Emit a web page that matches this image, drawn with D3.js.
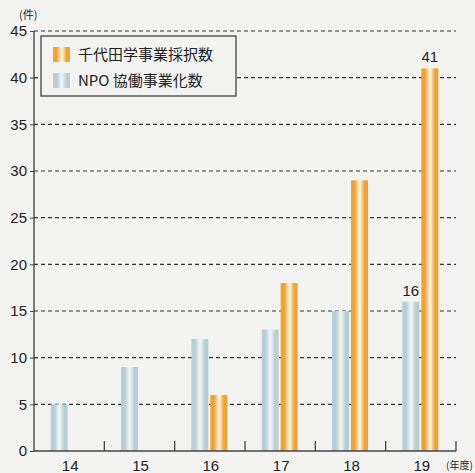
<!DOCTYPE html>
<html>
<head>
<meta charset="utf-8">
<script src="https://cdn.jsdelivr.net/npm/d3@7"></script>
<style>
  body { margin: 0; background: #f3f3f1; }
  svg { display: block; }
  text { font-family: "Liberation Sans", Arial, "Noto Sans CJK JP", sans-serif; fill: #222; }
  .jp { font-family: "Noto Sans CJK JP", sans-serif; }
</style>
</head>
<body>
<div id="chart"></div>
<script>
// data
var years = ["14", "15", "16", "17", "18", "19"];
var npoValues = [5, 9, 12, 13, 15, 16];         // NPO 協働事業化数
var chiyodaValues = [0, 0, 6, 18, 29, 41];      // 千代田学事業採択数
var yTicks = [0, 5, 10, 15, 20, 25, 30, 35, 40, 45];
var seriesNames = ["千代田学事業採択数", "NPO 協働事業化数"];

var W = 475, H = 473;
var margin = { top: 31, right: 19, bottom: 22, left: 34 },
  width = W - margin.left - margin.right,
  height = H - margin.top - margin.bottom;

var svgRoot = d3.select("#chart").append("svg")
  .attr("width", W).attr("height", H);

// cylinder-like gradients
var defs = svgRoot.append("defs");
function grad(id, edge, mid) {
  var g = defs.append("linearGradient").attr("id", id)
    .attr("x1", "0%").attr("x2", "100%").attr("y1", "0%").attr("y2", "0%");
  g.append("stop").attr("offset", "0%").attr("stop-color", edge);
  g.append("stop").attr("offset", "22%").attr("stop-color", edge);
  g.append("stop").attr("offset", "52%").attr("stop-color", mid);
  g.append("stop").attr("offset", "80%").attr("stop-color", edge);
  g.append("stop").attr("offset", "100%").attr("stop-color", edge);
}
grad("gOrange", "#f0a232", "#fff8ee");
grad("gBlue", "#b7ced5", "#f2f7f6");

var svg = svgRoot.append("g")
  .attr("transform", "translate(" + margin.left + "," + margin.top + ")");

var x = d3.scaleBand().domain(years).range([0, width]).padding(0);
var y = d3.scaleLinear().domain([0, 45]).range([height, 0]);

// dashed grid lines
svg.selectAll(".grid")
  .data(yTicks.filter(function (d) { return d > 0; }))
  .enter().append("line")
  .attr("x1", 0).attr("x2", width)
  .attr("y1", function (d) { return y(d); })
  .attr("y2", function (d) { return y(d); })
  .style("stroke", "#333")
  .style("stroke-width", 1.2)
  .style("stroke-dasharray", "4,3");

var barW = 17;

// NPO bars
svg.selectAll(".npo")
  .data(npoValues)
  .enter().append("rect")
  .attr("x", function (d, i) { return x(years[i]) + x.bandwidth() / 2 - barW - 1.5; })
  .attr("y", function (d) { return y(d); })
  .attr("width", barW)
  .attr("height", function (d) { return height - y(d); })
  .style("fill", "url(#gBlue)");

// Chiyoda bars
svg.selectAll(".chiyoda")
  .data(chiyodaValues)
  .enter().append("rect")
  .attr("x", function (d, i) { return x(years[i]) + x.bandwidth() / 2 + 0.5; })
  .attr("y", function (d) { return y(d); })
  .attr("width", barW)
  .attr("height", function (d) { return height - y(d); })
  .style("fill", "url(#gOrange)")
  .style("display", function (d) { return d > 0 ? null : "none"; });

// value labels on the last year
var last = years.length - 1;
svg.append("text")
  .attr("x", x(years[last]) + x.bandwidth() / 2 - barW / 2 - 1.5)
  .attr("y", y(npoValues[last]) - 6)
  .attr("text-anchor", "middle")
  .style("font-size", "15px")
  .text(npoValues[last]);
svg.append("text")
  .attr("x", x(years[last]) + x.bandwidth() / 2 + barW / 2 + 0.5)
  .attr("y", y(chiyodaValues[last]) - 6)
  .attr("text-anchor", "middle")
  .style("font-size", "15px")
  .text(chiyodaValues[last]);

// y axis
var yAxis = svg.append("g")
  .call(d3.axisLeft(y).tickValues(yTicks).tickSize(4).tickPadding(3));
yAxis.select(".domain").remove();
yAxis.selectAll("line").style("stroke", "#444");
yAxis.selectAll("text").style("font-size", "15px")
  .style("font-family", "'Liberation Sans', Arial, sans-serif").attr("fill", "#222");
svg.append("line")
  .attr("x1", 0).attr("x2", 0).attr("y1", y(45)).attr("y2", height)
  .style("stroke", "#444").style("stroke-width", 1.4);

// x axis
svg.append("line")
  .attr("x1", 0).attr("x2", width).attr("y1", height).attr("y2", height)
  .style("stroke", "#444").style("stroke-width", 1.4);
svg.selectAll(".xtick")
  .data(years)
  .enter().append("line")
  .attr("x1", function (d) { return x(d) + x.bandwidth(); })
  .attr("x2", function (d) { return x(d) + x.bandwidth(); })
  .attr("y1", height).attr("y2", height - 10)
  .style("stroke", "#444").style("stroke-width", 1.3);
svg.selectAll(".xlabel")
  .data(years)
  .enter().append("text")
  .attr("x", function (d) { return x(d) + x.bandwidth() / 2 + 1; })
  .attr("y", height + 20)
  .attr("text-anchor", "middle")
  .style("font-size", "15px")
  .text(function (d) { return d; });

// unit labels
svgRoot.append("text").attr("class", "jp")
  .attr("x", 19).attr("y", 19)
  .style("font-size", "11px")
  .text("(件)");
svgRoot.append("text").attr("class", "jp")
  .attr("x", 446).attr("y", 469)
  .style("font-size", "10px")
  .text("(年度)");

// legend
var lg = svgRoot.append("g").attr("transform", "translate(41,36)");
lg.append("rect")
  .attr("width", 195).attr("height", 60)
  .style("fill", "#f3f3f1")
  .style("stroke", "#444").style("stroke-width", 1.3);
var legFills = ["url(#gOrange)", "url(#gBlue)"];
seriesNames.forEach(function (name, i) {
  lg.append("rect")
    .attr("x", 12).attr("y", 11 + i * 26)
    .attr("width", 17).attr("height", 15)
    .style("fill", legFills[i]);
  lg.append("text").attr("class", "jp")
    .attr("x", 37).attr("y", 24 + i * 26)
    .style("font-size", "15px")
    .text(name);
});
</script>
</body>
</html>
